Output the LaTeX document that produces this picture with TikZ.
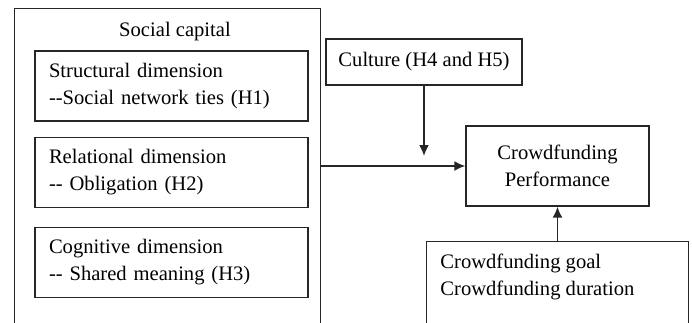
\documentclass[tikz,border=0pt]{standalone}
\usepackage{fontspec}
\setmainfont{Liberation Serif}
\usetikzlibrary{arrows.meta}
\begin{document}
\begin{tikzpicture}[x=0.5pt,y=-0.5pt]
        \tikzstyle{every node}=[font=\fontsize{10.3}{13.5}\selectfont, text=black]
        \tikzstyle{box}=[draw=black!85, line width=0.65pt, rectangle, inner sep=0pt]
        \tikzstyle{dimbox}=[box, minimum height=35pt, text width=122.5pt, inner xsep=7pt, align=left]
        \tikzstyle{arrow}=[black!85, line width=0.9pt, -{Latex[length=5.5pt,width=5pt]}]

        \clip (0,0) rectangle (692,322);

        \node[box, minimum width=153pt, minimum height=170pt, anchor=north west] (capital) at (14,8) {};
        \node (captitle) at (175,32) {Social capital};
        \node[dimbox] (struct) at (171.5,86) {Structural dimension\\-\kern0pt-Social network ties (H1)};
        \node[dimbox] (relat) at (171.5,172.5) {Relational dimension\\-\kern0pt- Obligation (H2)};
        \node[dimbox] (cogn) at (171.5,262.5) {Cognitive dimension\\-\kern0pt- Shared meaning (H3)};

        \node[box, minimum width=98pt, minimum height=23pt] (culture) at (424,62) {Culture (H4 and H5)};
        \node[box, minimum width=91.5pt, minimum height=40pt, align=center] (perf) at (557.5,166) {Crowdfunding\\Performance};
        \node[box, minimum width=131pt, minimum height=60pt, anchor=north west] (ctrl) at (426,241) {};
        \node[align=left, anchor=west, inner sep=0pt] (ctrltext) at (440,277) {Crowdfunding goal\\Crowdfunding duration};

        \coordinate (mod) at (424,156);
        \draw[arrow] (culture.south) -- (mod);
        \draw[arrow] (capital.east |- perf.west) -- (perf.west);
        \draw[arrow] (ctrl.north -| perf.south) -- (perf.south);
    \end{tikzpicture}
\end{document}
